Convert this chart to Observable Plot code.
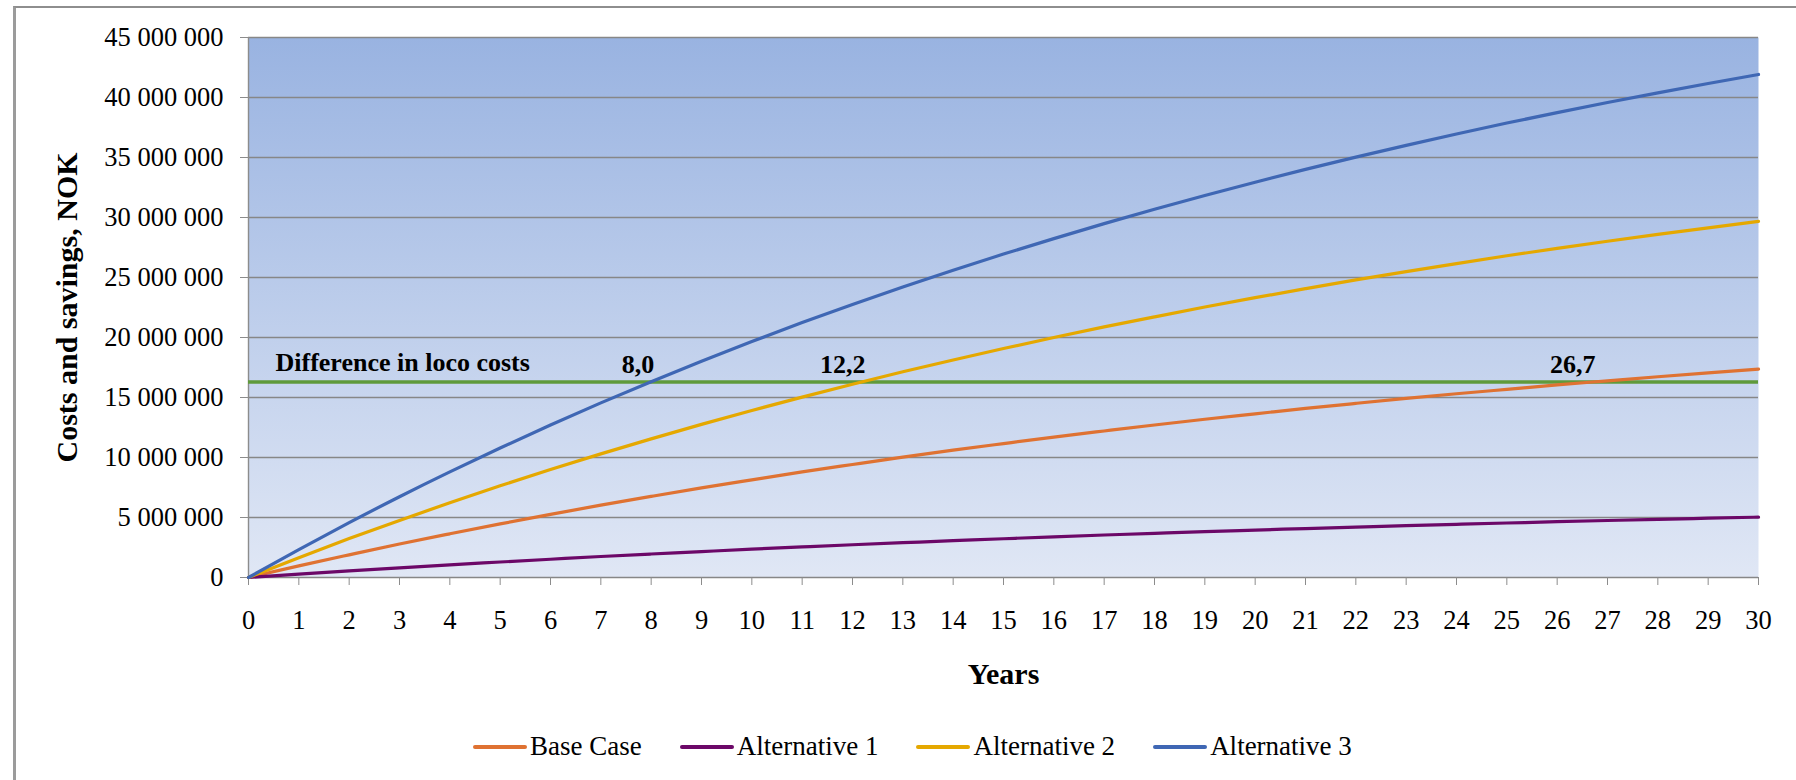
<!DOCTYPE html>
<html>
<head>
<meta charset="utf-8">
<script src="https://cdn.jsdelivr.net/npm/d3@7"></script>
<script src="https://cdn.jsdelivr.net/npm/@observablehq/plot@0.6"></script>
<style>
  html, body { margin: 0; padding: 0; background: #fff; overflow: hidden; width: 1796px; height: 780px; }
  #frame { position: absolute; left: 13px; top: 6px; width: 1900px; height: 900px;
           border-left: 3px solid #9b9b9b; border-top: 2px solid #8e8e8e; }
  #chart { position: absolute; left: 0; top: 0; }
  #legend { position: absolute; left: 473px; top: 731px; display: flex; align-items: center;
            font-family: "Liberation Serif", "Times New Roman", serif; font-size: 27px; color: #000; }
  .item { display: flex; align-items: center; margin-right: 38px; }
  .sw { width: 54px; height: 4px; border-radius: 2px; margin-right: 3px; }
</style>
</head>
<body>
<div id="frame"></div>
<div id="chart"></div>
<div id="legend"></div>
<script>
// Years on the horizontal axis
const years = [0, 1, 2, 3, 4, 5, 6, 7, 8, 9, 10, 11, 12, 13, 14, 15, 16, 17, 18, 19, 20,
               21, 22, 23, 24, 25, 26, 27, 28, 29, 30];

// Accumulated savings per alternative, million NOK, one value per year
const baseCase = [0, 0.97, 1.89, 2.79, 3.64, 4.47, 5.26, 6.03, 6.76, 7.47, 8.14, 8.80, 9.42, 10.03,
                  10.61, 11.16, 11.70, 12.21, 12.71, 13.19, 13.64, 14.09, 14.51, 14.92, 15.31,
                  15.68, 16.05, 16.39, 16.73, 17.05, 17.36];
const alternative1 = [0, 0.28, 0.55, 0.81, 1.06, 1.29, 1.52, 1.75, 1.96, 2.16, 2.36, 2.55, 2.73, 2.90,
                      3.07, 3.23, 3.39, 3.54, 3.68, 3.82, 3.95, 4.08, 4.20, 4.32, 4.43, 4.54, 4.65,
                      4.75, 4.85, 4.94, 5.03];
const alternative2 = [0, 1.65, 3.24, 4.76, 6.23, 7.64, 9.00, 10.30, 11.55, 12.76, 13.92, 15.03, 16.10,
                      17.14, 18.13, 19.08, 20.00, 20.88, 21.72, 22.54, 23.32, 24.07, 24.80, 25.49,
                      26.16, 26.81, 27.43, 28.02, 28.59, 29.14, 29.67];
const alternative3 = [0, 2.33, 4.57, 6.73, 8.80, 10.79, 12.71, 14.55, 16.32, 18.02, 19.66, 21.24, 22.75,
                      24.21, 25.60, 26.95, 28.24, 29.49, 30.69, 31.84, 32.94, 34.01, 35.03, 36.01,
                      36.96, 37.87, 38.74, 39.58, 40.39, 41.17, 41.92];

// Difference in loco costs (NOK) and the payback years where each curve reaches it
const locoDifference = 16300000;
const paybackYears = [8.0, 12.2, 26.7];

// Value axis ticks (NOK)
const yTicks = [0, 5000000, 10000000, 15000000, 20000000, 25000000, 30000000, 35000000, 40000000, 45000000];

const seriesNames = ["Base Case", "Alternative 1", "Alternative 2", "Alternative 3"];
const seriesColors = ["#df7232", "#6c0868", "#e5a800", "#3f67b4"];
const seriesValues = [baseCase, alternative1, alternative2, alternative3];

const rows = seriesNames.flatMap((name, k) =>
  seriesValues[k].map((v, i) => ({series: name, year: years[i], value: v * 1e6})));

const fmtNOK = d => d3.format(",")(d).replace(/,/g, "\u00a0");
const serif = '"Liberation Serif", "Times New Roman", serif';

const chart = Plot.plot({
  width: 1796,
  height: 700,
  marginLeft: 248,
  marginRight: 38,
  marginTop: 37,
  marginBottom: 123,
  style: {fontFamily: serif, fontSize: "26.5px", background: "transparent", color: "#000", overflow: "visible"},
  x: {domain: [0, 30]},
  y: {domain: [0, 45000000]},
  color: {domain: seriesNames, range: seriesColors},
  marks: [
    Plot.frame({fill: "url(#plotBg)", stroke: null}),
    Plot.ruleY(yTicks, {stroke: "#878787", strokeWidth: 1.4}),
    Plot.ruleX([0], {stroke: "#8c8c8c", strokeWidth: 1.4}),
    Plot.axisY({ticks: yTicks, tickFormat: fmtNOK, tickSize: 8, tickPadding: 17,
                stroke: "#8c8c8c", fill: "#000", label: null}),
    Plot.axisX({ticks: years, tickFormat: d => String(d), tickSize: 8, tickPadding: 25,
                stroke: "#8c8c8c", fill: "#000", label: null}),
    Plot.ruleY([locoDifference], {stroke: "#5f9a3b", strokeWidth: 3.5}),
    Plot.line(rows, {x: "year", y: "value", z: "series", stroke: "series",
                     strokeWidth: 3.2, curve: "monotone-x"}),
    Plot.text(["Difference in loco costs"], {x: 0, y: locoDifference, text: d => d,
              textAnchor: "start", lineAnchor: "bottom", dx: 27, dy: -11,
              fontWeight: "bold", fontSize: 26, fill: "#000"}),
    Plot.text(paybackYears, {x: d => d, y: locoDifference,
              text: d => d.toFixed(1).replace(".", ","),
              textAnchor: "end", lineAnchor: "bottom", dx: 3, dy: -9,
              fontWeight: "bold", fontSize: 26, fill: "#000"}),
    Plot.text(["Years"], {frameAnchor: "bottom", text: d => d, lineAnchor: "top", dy: 85,
              fontWeight: "bold", fontSize: 30, fill: "#000"}),
    Plot.text(["Costs and savings, NOK"], {frameAnchor: "left", text: d => d, rotate: -90,
              textAnchor: "middle", lineAnchor: "middle", dx: -181,
              fontWeight: "bold", fontSize: 30, fill: "#000"})
  ]
});

// vertical gradient behind the plotting area
d3.select(chart).insert("defs", ":first-child").html(
  '<linearGradient id="plotBg" x1="0" y1="0" x2="0" y2="1">' +
  '<stop offset="0" stop-color="#99b3e1"/><stop offset="1" stop-color="#e0e7f5"/>' +
  '</linearGradient>');

document.getElementById("chart").appendChild(chart);

// legend below the chart
const legend = d3.select("#legend");
seriesNames.forEach((name, k) => {
  const item = legend.append("div").attr("class", "item");
  item.append("div").attr("class", "sw").style("background", seriesColors[k]);
  item.append("span").text(name);
});
</script>
</body>
</html>
